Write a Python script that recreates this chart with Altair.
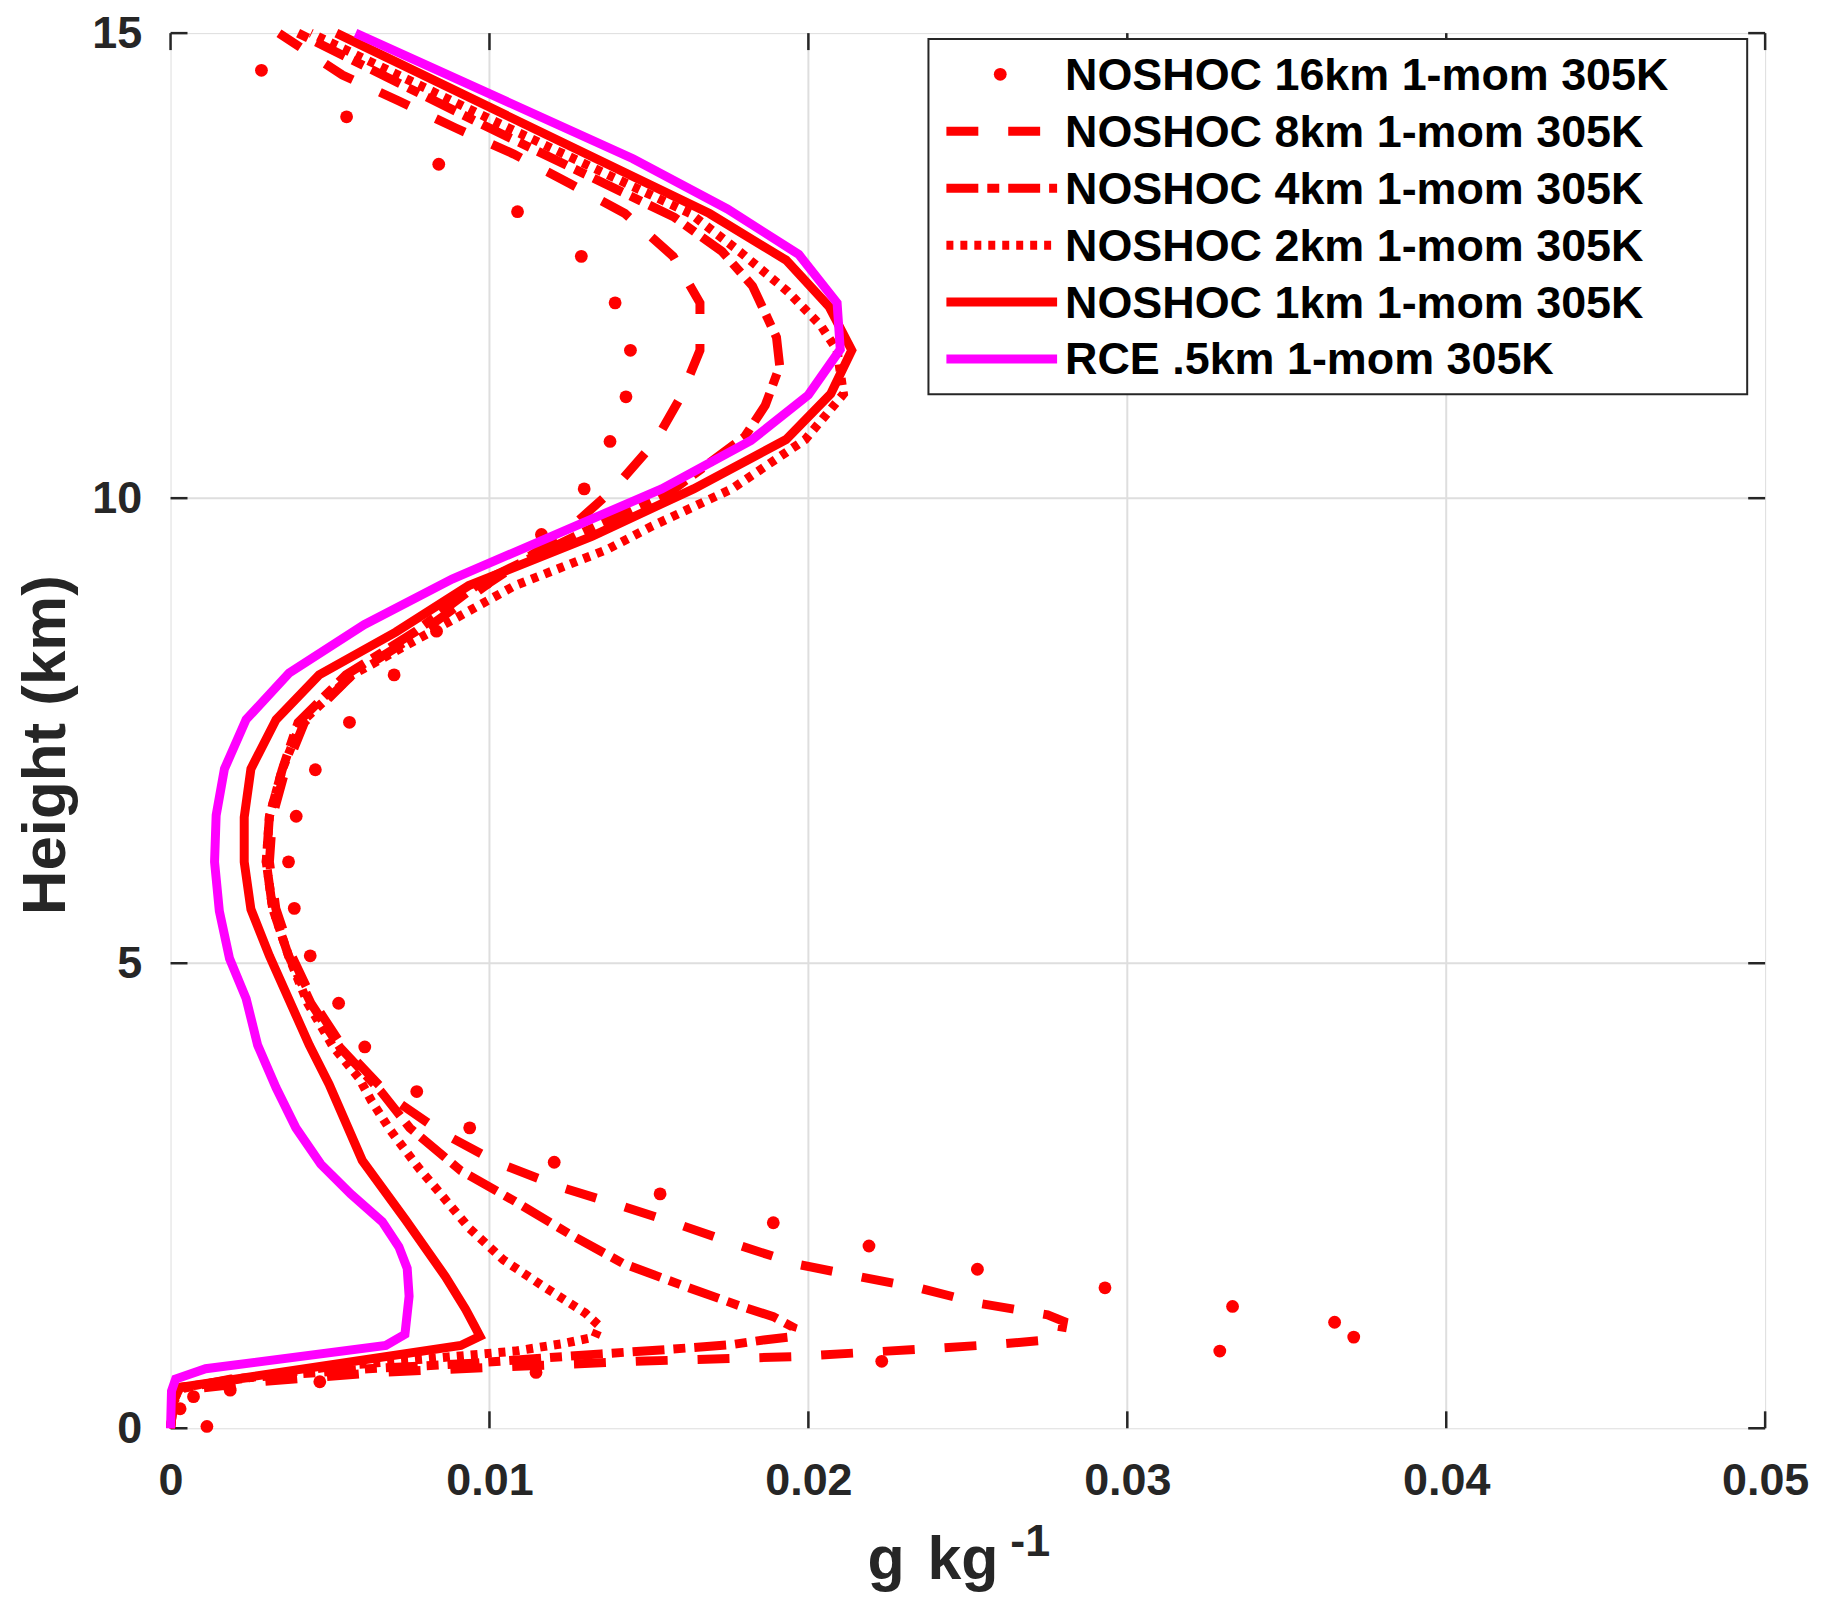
import altair as alt
import pandas as pd

# ---------------- data ----------------
x_ticks = [0, 0.01, 0.02, 0.03, 0.04, 0.05]
y_ticks = [0, 5, 10, 15]
x_grid = [0.01, 0.02, 0.03, 0.04]
y_grid = [5, 10]

series_labels = [
    "NOSHOC 16km 1-mom 305K",
    "NOSHOC 8km 1-mom 305K",
    "NOSHOC 4km 1-mom 305K",
    "NOSHOC 2km 1-mom 305K",
    "NOSHOC 1km 1-mom 305K",
    "RCE .5km 1-mom 305K",
]

# NOSHOC 16km (dots)
h_16 = [0.02, 0.21, 0.34, 0.41, 0.50, 0.60, 0.72, 0.83, 0.98, 1.14, 1.31, 1.51, 1.71, 1.96,
        2.21, 2.52, 2.86, 3.23, 3.62, 4.10, 4.57, 5.08, 5.59, 6.09, 6.58, 7.08, 7.59, 8.10,
        8.57, 9.09, 9.61, 10.10, 10.61, 11.09, 11.59, 12.10, 12.60, 13.08, 13.59, 14.10, 14.60]
v_16 = [0.00114, 0.0003, 0.00072, 0.00187, 0.00468, 0.01146, 0.0223, 0.0329, 0.0371, 0.0365,
        0.0333, 0.0293, 0.0253, 0.0219, 0.0189, 0.01535, 0.01203, 0.00938, 0.00772, 0.00609,
        0.00527, 0.00438, 0.00388, 0.00370, 0.00394, 0.00454, 0.00561, 0.00701, 0.00834,
        0.0099, 0.01163, 0.01297, 0.01378, 0.01428, 0.01442, 0.01394, 0.01288, 0.01088,
        0.00841, 0.00552, 0.00285]

# NOSHOC 8km (dashed)
h_8 = [0.0, 0.30, 0.42, 0.50, 0.60, 0.67, 0.72, 0.77, 0.85, 0.90, 0.96, 1.15, 1.22, 1.34,
       1.50, 1.63, 1.76, 1.97, 2.19, 2.40, 2.60, 2.85, 3.17, 3.56, 4.10, 4.57, 5.08, 5.59,
       6.09, 6.58, 7.08, 7.59, 8.10, 8.57, 9.09, 9.61, 10.10, 10.61, 11.09, 11.59, 12.10,
       12.60, 13.06, 13.38, 13.70, 13.98, 14.27, 14.55, 15.0]
v_8 = [0.0, 0.0001, 0.0006, 0.0028, 0.0065, 0.0111, 0.0146, 0.0195, 0.0235, 0.0258, 0.0279,
       0.0280, 0.0275, 0.0254, 0.02355, 0.0216, 0.0197, 0.0178, 0.01595, 0.01405, 0.01217,
       0.0103, 0.00855, 0.0069, 0.0054, 0.0045, 0.0038, 0.0033, 0.0031, 0.0032, 0.0036,
       0.0042, 0.0057, 0.0079, 0.0100, 0.0123, 0.0139, 0.0152, 0.0160, 0.0166, 0.0166,
       0.01576, 0.01425, 0.01253, 0.01076, 0.00894, 0.00716, 0.00539, 0.0034]

# NOSHOC 4km (dash-dot)
h_4 = [0.0, 0.30, 0.43, 0.53, 0.64, 0.70, 0.75, 0.80, 0.85, 0.90, 0.95, 0.98, 1.09, 1.20,
       1.31, 1.53, 1.77, 2.09, 2.44, 2.77, 3.23, 3.62, 4.10, 4.57, 5.08, 5.59, 6.09, 6.58,
       7.08, 7.59, 8.10, 8.57, 9.09, 9.61, 10.10, 10.66, 11.00, 11.42, 11.73, 12.28, 12.65,
       13.02, 13.98, 15.0]
v_4 = [0.0, 0.0001, 0.0004, 0.0019, 0.0062, 0.0095, 0.0115, 0.0135, 0.0157, 0.0176, 0.0186,
       0.0194, 0.0195, 0.0189, 0.0179, 0.0161, 0.0142, 0.0125, 0.0108, 0.0091, 0.0075,
       0.0066, 0.0053, 0.0044, 0.0037, 0.0032, 0.0030, 0.0031, 0.0035, 0.0040, 0.0055,
       0.0077, 0.0097, 0.0128, 0.0158, 0.0180, 0.01865, 0.0191, 0.0190, 0.01825, 0.0173,
       0.0158, 0.0100, 0.0040]

# NOSHOC 2km (dotted)
h_2 = [0.0, 0.30, 0.44, 0.50, 0.57, 0.67, 0.73, 0.83, 0.91, 0.98, 1.10, 1.24, 1.53, 1.81,
       2.15, 2.56, 2.79, 3.20, 3.52, 3.77, 4.10, 4.57, 5.08, 5.59, 6.09, 6.58, 7.08, 7.59,
       8.10, 8.57, 9.06, 9.45, 9.70, 10.10, 10.63, 11.12, 11.59, 11.85, 12.22, 12.65, 13.06,
       13.98, 15.0]
v_2 = [0.0, 0.0001, 0.0003, 0.0016, 0.0030, 0.0052, 0.0075, 0.0108, 0.0123, 0.0133, 0.01345,
       0.0130, 0.01167, 0.01044, 0.00937, 0.00837, 0.0078, 0.0069, 0.0063, 0.0059, 0.0051,
       0.0043, 0.0037, 0.0032, 0.0030, 0.0031, 0.0035, 0.0041, 0.0057, 0.0082, 0.0108,
       0.0137, 0.0151, 0.0176, 0.0199, 0.0211, 0.0209, 0.0204, 0.01936, 0.01785, 0.0163,
       0.0106, 0.0044]

# NOSHOC 1km (solid)
h_1 = [0.0, 0.30, 0.44, 0.89, 0.99, 1.12, 1.28, 1.63, 2.24, 2.88, 3.70, 4.12, 5.08, 5.58,
       6.09, 6.57, 7.09, 7.62, 8.10, 8.56, 9.06, 9.59, 10.10, 10.63, 11.12, 11.59, 12.06,
       12.56, 13.06, 15.0]
v_1 = [0.0, 0.0001, 0.0003, 0.0091, 0.0097, 0.0095, 0.00925, 0.00862, 0.00737, 0.00601,
       0.00497, 0.00435, 0.0031, 0.00252, 0.00231, 0.00231, 0.00252, 0.00331, 0.00466,
       0.00706, 0.00935, 0.01321, 0.0164, 0.0193, 0.0207, 0.02136, 0.02065, 0.0193, 0.0169,
       0.0052]

# RCE .5km (magenta solid)
h_rce = [0.0, 0.40, 0.53, 0.64, 0.89, 1.01, 1.42, 1.72, 1.95, 2.22, 2.52, 2.84, 3.23, 3.66,
         4.12, 4.62, 5.05, 5.56, 6.09, 6.59, 7.09, 7.62, 8.12, 8.64, 9.13, 10.10, 10.62,
         11.11, 11.60, 12.10, 12.62, 13.11, 13.65, 15.0]
v_rce = [0.0, 0.00003, 0.00016, 0.0011, 0.00675, 0.00735, 0.00748, 0.00742, 0.00716, 0.00664,
         0.00565, 0.00471, 0.00393, 0.00331, 0.00273, 0.00237, 0.00185, 0.00153, 0.00138,
         0.00143, 0.00169, 0.00237, 0.00372, 0.00607, 0.00883, 0.0154, 0.0182, 0.0200, 0.0210,
         0.0209, 0.0197, 0.01746, 0.0145, 0.0058]

# ---------------- styling ----------------
W, H = 1599, 1399
RED = "#ff0000"
MAG = "#ff00ff"
AX = "#262626"
GRID = "#dedede"
FONT = "Liberation Sans"
LW = 9
TICK = 17

DASHED = [32, 30]
DASHDOT = [32, 9, 12, 9]
DOTTED = [7, 7]

xs = alt.Scale(domain=[0, 0.05], nice=False, zero=False)
ys = alt.Scale(domain=[0, 15], nice=False, zero=False)

ax_x = alt.Axis(values=x_ticks, format="~g", grid=False, domain=False, ticks=True,
                tickSize=0, tickWidth=0, labelPadding=30, labelFontSize=45,
                labelFontWeight="bold", labelFont=FONT, labelColor=AX, title=None,
                labelFlush=False, labelOverlap=False)
ax_y = alt.Axis(values=y_ticks, format="d", grid=False, domain=False, ticks=True,
                tickSize=0, tickWidth=0, labelPadding=29, labelFontSize=45,
                labelFontWeight="bold", labelFont=FONT, labelColor=AX, title=None,
                labelOverlap=False)


def X(f):
    return alt.X(f"{f}:Q", scale=xs, axis=ax_x)


def Y(f):
    return alt.Y(f"{f}:Q", scale=ys, axis=ax_y)


def prof(h, v):
    return pd.DataFrame({"h": h, "v": v, "i": list(range(len(h)))})


one = pd.DataFrame({"a": [0]})
layers = []

# grid lines
layers.append(alt.Chart(pd.DataFrame({"t": x_grid})).mark_rule(color=GRID, strokeWidth=2)
              .encode(x=X("t")))
layers.append(alt.Chart(pd.DataFrame({"t": y_grid})).mark_rule(color=GRID, strokeWidth=2)
              .encode(y=Y("t")))

# inward ticks on all four sides
txd = pd.DataFrame({"t": x_ticks})
tyd = pd.DataFrame({"t": y_ticks})
layers.append(alt.Chart(txd).mark_rule(color=AX, strokeWidth=2.5)
              .encode(x=X("t"), y=alt.value(H), y2=alt.value(H - TICK)))
layers.append(alt.Chart(txd).mark_rule(color=AX, strokeWidth=2.5)
              .encode(x=X("t"), y=alt.value(0), y2=alt.value(TICK)))
layers.append(alt.Chart(tyd).mark_rule(color=AX, strokeWidth=2.5)
              .encode(y=Y("t"), x=alt.value(0), x2=alt.value(TICK)))
layers.append(alt.Chart(tyd).mark_rule(color=AX, strokeWidth=2.5)
              .encode(y=Y("t"), x=alt.value(W), x2=alt.value(W - TICK)))

# data
layers.append(alt.Chart(prof(h_16, v_16)).mark_circle(color=RED, size=165, opacity=1)
              .encode(x=X("v"), y=Y("h")))

line_specs = [
    (h_8, v_8, RED, DASHED),
    (h_4, v_4, RED, DASHDOT),
    (h_2, v_2, RED, DOTTED),
    (h_1, v_1, RED, None),
    (h_rce, v_rce, MAG, None),
]
for h, v, col, dash in line_specs:
    kw = dict(color=col, strokeWidth=LW, strokeCap="butt")
    if dash:
        kw["strokeDash"] = dash
    layers.append(alt.Chart(prof(h, v)).mark_line(**kw)
                  .encode(x=X("v"), y=Y("h"), order="i:Q"))

# legend
LX0, LX1, LY0, LY1 = 760, 1581, 6, 362
layers.append(alt.Chart(one).mark_rect(fill="white", stroke=AX, strokeWidth=2)
              .encode(x=alt.value(LX0), x2=alt.value(LX1), y=alt.value(LY0), y2=alt.value(LY1)))
row0, dy = 41.3, 57.1
styles = [("dot", RED, None), ("line", RED, DASHED), ("line", RED, DASHDOT),
          ("line", RED, DOTTED), ("line", RED, None), ("line", MAG, None)]
for k, (lab, (kind, col, dash)) in enumerate(zip(series_labels, styles)):
    yc = row0 + k * dy
    if kind == "dot":
        layers.append(alt.Chart(one).mark_circle(color=col, size=165, opacity=1)
                      .encode(x=alt.value(832), y=alt.value(yc)))
    else:
        kw = dict(color=col, strokeWidth=LW, strokeCap="butt")
        if dash:
            kw["strokeDash"] = dash
        layers.append(alt.Chart(one).mark_rule(**kw)
                      .encode(x=alt.value(778), x2=alt.value(889), y=alt.value(yc)))
    layers.append(alt.Chart(one).mark_text(text=lab, align="left", baseline="alphabetic",
                                           font=FONT, fontSize=45, fontWeight="bold",
                                           color="black")
                  .encode(x=alt.value(897), y=alt.value(yc + 15.5)))

# axis titles
layers.append(alt.Chart(one).mark_text(text="Height (km)", align="center", baseline="alphabetic",
                                       angle=270, font=FONT, fontSize=62, fontWeight="bold",
                                       color=AX)
              .encode(x=alt.value(-106), y=alt.value(714)))
layers.append(alt.Chart(one).mark_text(text="g", align="left", baseline="alphabetic",
                                       font=FONT, fontSize=61, fontWeight="bold", color=AX)
              .encode(x=alt.value(699), y=alt.value(1550)))
layers.append(alt.Chart(one).mark_text(text="kg", align="left", baseline="alphabetic",
                                       font=FONT, fontSize=61, fontWeight="bold", color=AX)
              .encode(x=alt.value(759), y=alt.value(1550)))
layers.append(alt.Chart(one).mark_text(text="-1", align="left", baseline="alphabetic",
                                       font=FONT, fontSize=45, fontWeight="bold", color=AX)
              .encode(x=alt.value(842), y=alt.value(1527)))

chart = (alt.layer(*layers)
         .properties(width=W, height=H, autosize="none",
                     padding={"left": 163, "top": 23, "right": 50, "bottom": 170})
         .configure_view(stroke=AX, strokeWidth=2)
         .configure(font=FONT))

chart.save("out.html", embed_options={"renderer": "svg", "actions": False})
